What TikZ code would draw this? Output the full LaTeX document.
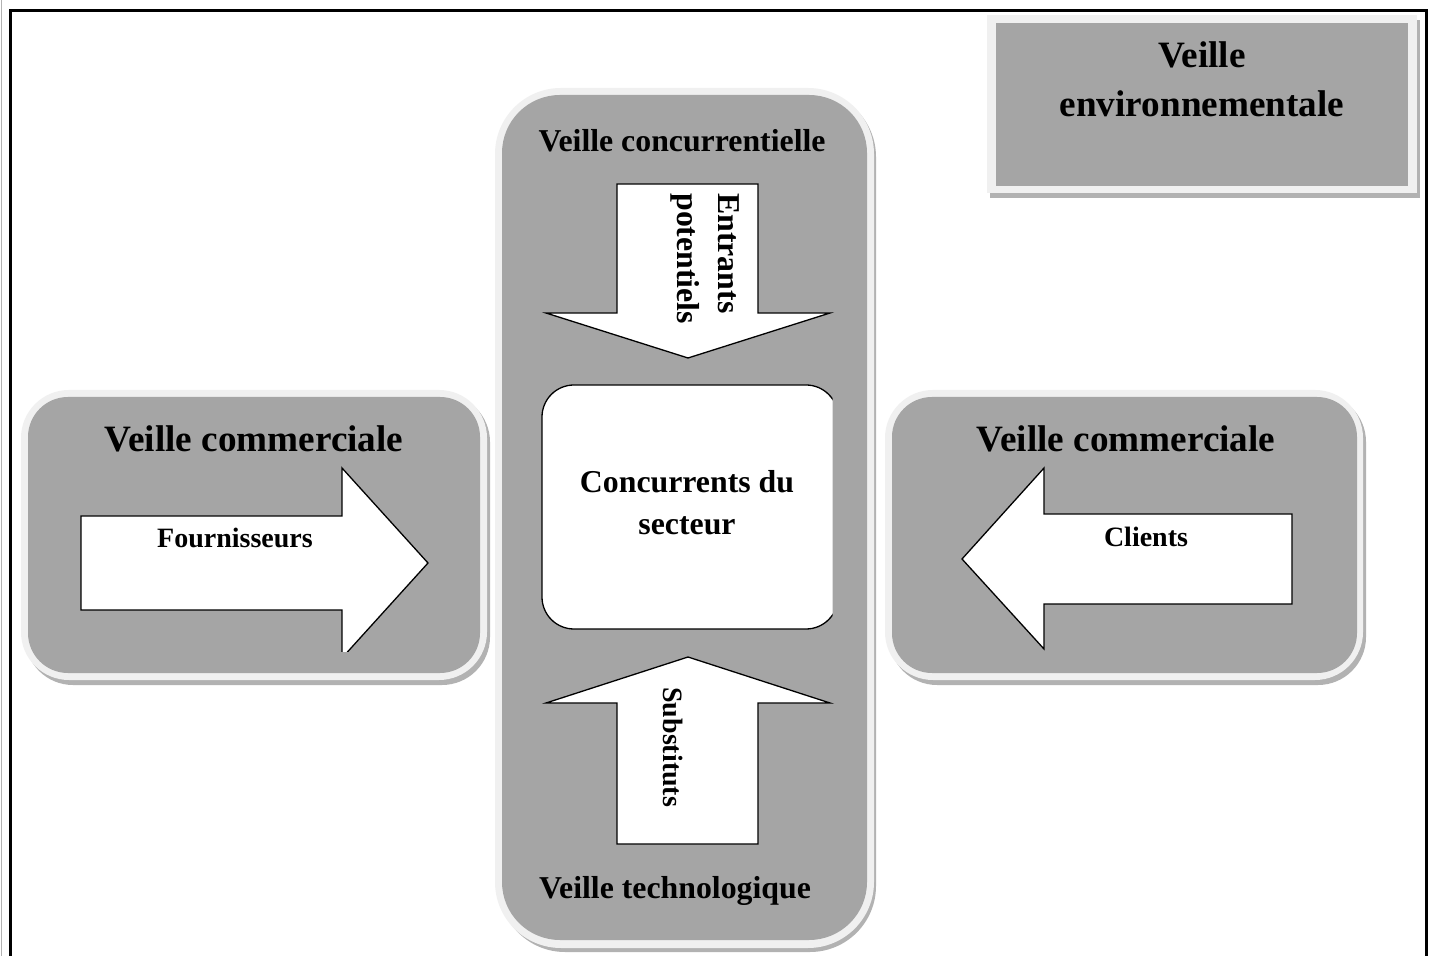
\documentclass[tikz,border=0pt]{standalone}
\usepackage{fontspec}
\setmainfont{Liberation Serif}
\definecolor{panelgrey}{HTML}{A5A5A5}
\definecolor{glowgrey}{HTML}{F0F0F0}
\definecolor{shadegrey}{HTML}{B2B2B2}
\begin{document}
\begin{tikzpicture}[x=0.5pt,y=-0.5pt,
  every node/.style={inner sep=0pt, text=black},
  bigtxt/.style={font=\fontsize{18.6pt}{22pt}\selectfont\bfseries},
  midtxt/.style={font=\fontsize{15.9pt}{19pt}\selectfont\bfseries},
  smalltxt/.style={font=\fontsize{14pt}{17pt}\selectfont\bfseries},
  shadepart/.style={fill=shadegrey},
  glowpart/.style={fill=glowgrey},
  greypart/.style={fill=panelgrey},
  arrowshape/.style={fill=white, draw=black, line width=0.65pt, line join=miter},
  framestroke/.style={draw=black, line width=1.5pt}]

\useasboundingbox (0,0) rectangle (1435,956);
\fill[white] (0,0) rectangle (1435,956);

% page frame, open at the bottom
\draw[gray!60, line width=0.4pt] (1.5,0) -- (1.5,956);
\draw[framestroke] (10.5,956) -- (10.5,10.5) -- (1426,10.5) -- (1426,956);

% ---- Veille environnementale (plain box) ----
\fill[shadepart] (990,20) rectangle (1420,198);
\fill[glowpart] (987,15) rectangle (1417,193);
\fill[greypart] (996,23) rectangle (1408,186);
\node[bigtxt, anchor=base] (env1) at (1202,68) {Veille};
\node[bigtxt, anchor=base] (env2) at (1202,117) {environnementale};

% ---- central column ----
\fill[shadepart, rounded corners=33pt] (499,91) rectangle (876,952);
\fill[glowpart, rounded corners=33pt] (495,88) rectangle (874,948);
\fill[greypart, rounded corners=29pt] (502,95) rectangle (867,940);
\node[midtxt, anchor=base] (vconc) at (682,152) {Veille concurrentielle};
\node[midtxt, anchor=base] (vtech) at (675,898) {Veille technologique};

% ---- left panel ----
\fill[shadepart, rounded corners=24pt] (25,394) rectangle (490,685);
\fill[glowpart, rounded corners=24pt] (21,390) rectangle (487,680);
\fill[greypart, rounded corners=20pt] (28,397) rectangle (480,673);
\node[bigtxt, anchor=base] (vcomL) at (254,452) {Veille commerciale};

% ---- right panel ----
\fill[shadepart, rounded corners=24pt] (889,394) rectangle (1366,685);
\fill[glowpart, rounded corners=24pt] (885,390) rectangle (1363,680);
\fill[greypart, rounded corners=20pt] (892,397) rectangle (1357,673);
\node[bigtxt, anchor=base] (vcomR) at (1126,452) {Veille commerciale};

% ---- central box (cut on its right side) ----
\begin{scope}
  \clip (530,370) rectangle (832.5,640);
  \draw[fill=white, draw=black, line width=0.65pt, rounded corners=16pt]
    (542,385) rectangle (838,629);
\end{scope}
\node[midtxt, anchor=base] (conc1) at (687,493) {Concurrents du};
\node[midtxt, anchor=base] (conc2) at (687,535) {secteur};

% ---- arrow: Entrants potentiels (down) ----
\draw[arrowshape] (617,184) -- (758,184) -- (758,313) -- (830,313) -- (688,358)
  -- (546,313) -- (617,313) -- cycle;
\node[midtxt, rotate=-90, anchor=base west] (ent1) at (718,193) {Entrants};
\node[midtxt, rotate=-90, anchor=base west] (ent2) at (677,193) {potentiels};

% ---- arrow: Substituts (up) ----
\draw[arrowshape] (617,844) -- (758,844) -- (758,703) -- (830,703) -- (688,657)
  -- (546,703) -- (617,703) -- cycle;
\node[smalltxt, rotate=-90, anchor=base west] (subst) at (663,687) {Substituts};

% ---- arrow: Fournisseurs (right, cut at the bottom) ----
\begin{scope}
  \clip (60,450) rectangle (450,652);
  \draw[arrowshape] (81,516) -- (342,516) -- (342,468) -- (428,563) -- (342,658)
    -- (342,610) -- (81,610) -- cycle;
\end{scope}
\node[smalltxt, anchor=base] (fourn) at (235,548) {Fournisseurs};

% ---- arrow: Clients (left) ----
\draw[arrowshape] (1292,514) -- (1044,514) -- (1044,468) -- (962,559) -- (1044,649)
  -- (1044,604) -- (1292,604) -- cycle;
\node[smalltxt, anchor=base] (clients) at (1146,547) {Clients};

\end{tikzpicture}
\end{document}
